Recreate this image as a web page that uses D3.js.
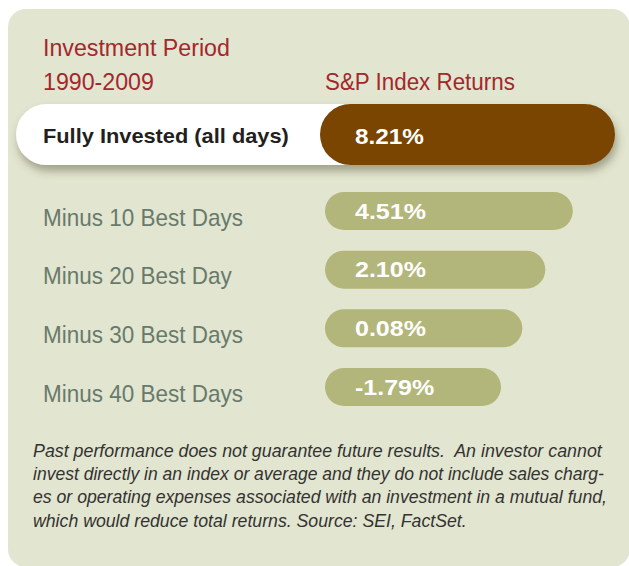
<!DOCTYPE html>
<html>
<head>
<meta charset="utf-8">
<script src="https://cdn.jsdelivr.net/npm/d3@7"></script>
<style>
  html, body { margin: 0; padding: 0; background: #fff; }
  svg { display: block; font-family: "Liberation Sans", Arial, sans-serif; }
  text { white-space: pre; }
</style>
</head>
<body>
<div class="chart"></div>
<script>
// data
var headerLines = ['Investment Period', '1990-2009'];
var columnTitle = 'S&P Index Returns';
var categories = ['Fully Invested (all days)', 'Minus 10 Best Days', 'Minus 20 Best Day', 'Minus 30 Best Days', 'Minus 40 Best Days'];
var returns = [8.21, 4.51, 2.10, 0.08, -1.79];
var valueLabels = ['8.21%', '4.51%', '2.10%', '0.08%', '-1.79%'];
var footnoteLines = [
  'Past performance does not guarantee future results.  An investor cannot',
  'invest directly in an index or average and they do not include sales charg-',
  'es or operating expenses associated with an investment in a mutual fund,',
  'which would reduce total returns. Source: SEI, FactSet.'
];

var width = 629;
var height = 566;

var rows = categories.map((c, i) => ({name: c, value: returns[i], label: valueLabels[i]}));
var lead = rows[0];
var rest = rows.slice(1);

// right end of each pill follows the return value
var x = d3.scaleLinear()
    .domain(d3.extent(returns))
    .range([501, 615]);

var y = d3.scalePoint()
    .domain(rest.map(d => d.name))
    .range([211, 387]);

var svg = d3.select('.chart').append('svg')
    .attr('width', width)
    .attr('height', height);

var defs = svg.append('defs');
defs.append('filter')
    .attr('id', 'shadow')
    .attr('x', '-10%').attr('y', '-30%')
    .attr('width', '120%').attr('height', '180%')
  .append('feDropShadow')
    .attr('dx', 2).attr('dy', 6)
    .attr('stdDeviation', 4.5)
    .attr('flood-color', '#4d5036')
    .attr('flood-opacity', 0.45);

// panel
svg.append('rect')
    .attr('x', 8).attr('y', 9)
    .attr('width', 622).attr('height', 558)
    .attr('rx', 18)
    .attr('fill', '#e2e5cf');

// narrow the text horizontally (the original face is condensed)
// k comes from the first node, or from a target width per node
function squeeze(sel, target) {
  var k0 = target / sel.node().getComputedTextLength();
  sel.each(function(d, i) {
    var t = d3.select(this);
    var k = Array.isArray(target) ? target[i] / this.getComputedTextLength() : k0;
    var tx = +t.attr('x'), ty = +t.attr('y');
    t.attr('x', 0).attr('y', 0)
      .attr('transform', `translate(${tx},${ty}) scale(${k},1)`);
  });
}
function squeezeEach(sel, widths) {
  sel.each(function(d, i) {
    var t = d3.select(this);
    var k = widths[i] / this.getComputedTextLength();
    var tx = +t.attr('x'), ty = +t.attr('y');
    t.attr('x', 0).attr('y', 0)
      .attr('transform', `translate(${tx},${ty}) scale(${k},1)`);
  });
}

// header
var head = svg.selectAll('text.head')
  .data(headerLines)
  .enter().append('text')
    .attr('class', 'head')
    .attr('x', 43)
    .attr('y', (d, i) => 56 + i * 33.5)
    .attr('fill', '#a3282e')
    .style('font-size', '24px')
    .text(d => d);
squeeze(head, 187);

var colHead = svg.append('text')
    .attr('x', 325)
    .attr('y', 89.5)
    .attr('fill', '#a3282e')
    .style('font-size', '24px')
    .text(columnTitle);
squeeze(colHead, 190);

// highlighted row
var hl = svg.append('g').attr('filter', 'url(#shadow)');
var hlY = 104, hlH = 61;
hl.append('rect')
    .attr('x', 16).attr('y', hlY)
    .attr('width', 400).attr('height', hlH)
    .attr('rx', hlH / 2)
    .attr('fill', '#ffffff');
hl.append('rect')
    .attr('x', 320).attr('y', hlY)
    .attr('width', x(lead.value) - 320).attr('height', hlH)
    .attr('rx', hlH / 2)
    .attr('fill', '#7a4500');

var hlName = svg.append('text')
    .attr('x', 43)
    .attr('y', hlY + hlH / 2 + 8.5)
    .attr('fill', '#231f20')
    .style('font-size', '21px')
    .style('font-weight', 'bold')
    .text(lead.name);
squeeze(hlName, 246);

var hlVal = svg.append('text')
    .attr('x', 355)
    .attr('y', hlY + hlH / 2 + 9.5)
    .attr('fill', '#ffffff')
    .style('font-size', '22px')
    .style('font-weight', 'bold')
    .text(lead.label);
squeeze(hlVal, 69);

// other rows
var barH = 38;
svg.selectAll('rect.bar')
  .data(rest)
  .enter().append('rect')
    .attr('class', 'bar')
    .attr('x', 325)
    .attr('y', d => y(d.name) - barH / 2)
    .attr('width', d => x(d.value) - 325)
    .attr('height', barH)
    .attr('rx', barH / 2)
    .attr('fill', '#b3b67a');

var names = svg.selectAll('text.name')
  .data(rest)
  .enter().append('text')
    .attr('class', 'name')
    .attr('x', 43)
    .attr('y', d => y(d.name) + 14.5)
    .attr('fill', '#687a6c')
    .style('font-size', '24px')
    .text(d => d.name);
squeeze(names, 200);

var vals = svg.selectAll('text.val')
  .data(rest)
  .enter().append('text')
    .attr('class', 'val')
    .attr('x', 355)
    .attr('y', d => y(d.name) + 7.5)
    .attr('fill', '#ffffff')
    .style('font-size', '22px')
    .style('font-weight', 'bold')
    .text(d => d.label);
squeeze(vals, 71);

// footnote, each line fitted to its measured width
var foot = svg.selectAll('text.foot')
  .data(footnoteLines)
  .enter().append('text')
    .attr('class', 'foot')
    .attr('x', 33)
    .attr('y', (d, i) => 456.7 + i * 23.3)
    .attr('fill', '#333333')
    .style('font-size', '18.5px')
    .style('font-style', 'italic')
    .text(d => d);
squeezeEach(foot, [569, 571, 574, 434]);
</script>
</body>
</html>
